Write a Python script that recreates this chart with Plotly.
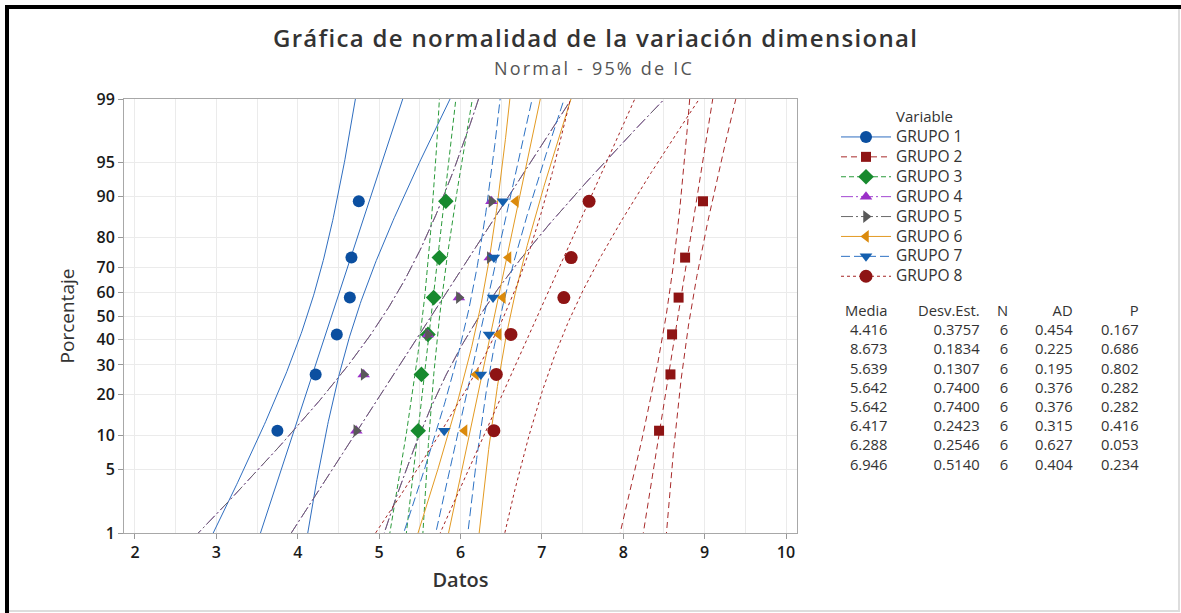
import math
from statistics import NormalDist
import plotly.graph_objects as go

# ---------------- data ----------------
grupos = ["GRUPO 1", "GRUPO 2", "GRUPO 3", "GRUPO 4", "GRUPO 5", "GRUPO 6", "GRUPO 7", "GRUPO 8"]
porcentajes = [10.9375, 26.5625, 42.1875, 57.8125, 73.4375, 89.0625]

grupo1 = [3.75, 4.22, 4.48, 4.64, 4.66, 4.75]
grupo2 = [8.44, 8.58, 8.60, 8.68, 8.76, 8.98]
grupo3 = [5.48, 5.52, 5.60, 5.67, 5.74, 5.82]
grupo4 = [4.72, 4.81, 5.60, 5.98, 6.36, 6.38]
grupo5 = [4.72, 4.81, 5.60, 5.98, 6.36, 6.38]
grupo6 = [6.05, 6.19, 6.47, 6.52, 6.59, 6.68]
grupo7 = [5.80, 6.25, 6.35, 6.40, 6.41, 6.52]
grupo8 = [6.41, 6.44, 6.62, 7.27, 7.36, 7.58]
datos = [grupo1, grupo2, grupo3, grupo4, grupo5, grupo6, grupo7, grupo8]

media = [4.416, 8.673, 5.639, 5.642, 5.642, 6.417, 6.288, 6.946]
desv_est = [0.3757, 0.1834, 0.1307, 0.7400, 0.7400, 0.2423, 0.2546, 0.5140]
n_obs = [6, 6, 6, 6, 6, 6, 6, 6]
ad = [0.454, 0.225, 0.195, 0.376, 0.376, 0.315, 0.627, 0.404]
p_val = [0.167, 0.686, 0.802, 0.282, 0.282, 0.416, 0.053, 0.234]

y_ticks = [1, 5, 10, 20, 30, 40, 50, 60, 70, 80, 90, 95, 99]
x_ticks = [2, 3, 4, 5, 6, 7, 8, 9, 10]

# ---------------- styles ----------------
estilos = [
    dict(symbol="circle", mc="#0B4FA0", lc="#2F6EC0", dash="solid", size=12),
    dict(symbol="square", mc="#8E1414", lc="#A82A2A", dash="6px,4px", size=10),
    dict(symbol="diamond", mc="#178A2E", lc="#2A9A3A", dash="5px,3px", size=12),
    dict(symbol="triangle-up", mc="#9B30C8", lc="#A448D2", dash="12px,3px,2px,3px", size=11),
    dict(symbol="triangle-right", mc="#595959", lc="#6A6A6A", dash="12px,3px,2px,3px", size=11),
    dict(symbol="triangle-left", mc="#DB8A0C", lc="#E39A22", dash="solid", size=11),
    dict(symbol="triangle-down", mc="#145FAE", lc="#2D72C4", dash="9px,4px", size=11),
    dict(symbol="circle", mc="#8E1414", lc="#A52424", dash="3px,3px", size=13),
]

nd = NormalDist()
def zq(p):
    return nd.inv_cdf(p / 100.0)

# plot-area pixel geometry
W, H = 1181, 613
L, R, T, B = 124, 797, 99, 533
def px(xpix):
    return (xpix - L) / (R - L)
def py(ypix):
    return (B - ypix) / (B - T)

FONT = "Open Sans"
TXT = "#333333"

fig = go.Figure()

# fitted lines and 95% CI bands
zs = [-2.7 + i * 5.4 / 200 for i in range(201)]
zc = nd.inv_cdf(0.975)
for i, g in enumerate(grupos):
    m, s, n = media[i], desv_est[i], n_obs[i]
    st = estilos[i]
    fit = [m + s * z for z in zs]
    hw = [zc * s / math.sqrt(n) * math.sqrt(1 + z * z / 2) for z in zs]
    lo = [f - h for f, h in zip(fit, hw)]
    hi = [f + h for f, h in zip(fit, hw)]
    for xs in (fit, lo, hi):
        fig.add_trace(go.Scatter(
            x=xs, y=zs, mode="lines", showlegend=False, hoverinfo="skip",
            line=dict(color=st["lc"], width=1, dash=st["dash"])))

# data points
yz = [zq(p) for p in porcentajes]
for i, g in enumerate(grupos):
    st = estilos[i]
    fig.add_trace(go.Scatter(
        x=datos[i], y=yz, mode="markers", showlegend=False, name=g,
        marker=dict(symbol=st["symbol"], size=st["size"], color=st["mc"])))

# legend entries
for i, g in enumerate(grupos):
    st = estilos[i]
    fig.add_trace(go.Scatter(
        x=[None], y=[None], mode="lines+markers",
        name=f'<span style="font-size:15.5px">{g}</span>',
        line=dict(color=st["lc"], width=1, dash=st["dash"]),
        marker=dict(symbol=st["symbol"], size=st["size"], color=st["mc"])))

annotations = []
# title and subtitle
annotations.append(dict(
    text='<span style="letter-spacing:1.3px">Gráfica de normalidad de la variación dimensional</span>',
    x=px(595), y=py(37.5), xref="paper", yref="paper", borderpad=0,
    showarrow=False, xanchor="center", yanchor="middle",
    font=dict(family=FONT, size=24, color="#333333", weight=600)))
annotations.append(dict(
    text='<span style="letter-spacing:2.2px">Normal - 95% de IC</span>',
    x=px(594), y=py(67.5), xref="paper", yref="paper", borderpad=0,
    showarrow=False, xanchor="center", yanchor="middle",
    font=dict(family=FONT, size=18, color="#555555")))
# legend title
annotations.append(dict(text="Variable", x=px(895), y=py(116), xref="paper", yref="paper",
                        showarrow=False, xanchor="left", yanchor="middle", borderpad=0,
                        font=dict(family=FONT, size=15, color=TXT)))

# statistics table: one right-aligned text block per column
col_right = [890, 982, 1010, 1075, 1141]
headers = ["Media", "Desv.Est.", "N", "AD", "P"]
columnas = [
    [f"{v:.3f}" for v in media],
    [f"{v:.4f}" for v in desv_est],
    [f"{v}" for v in n_obs],
    [f"{v:.3f}" for v in ad],
    [f"{v:.3f}" for v in p_val],
]
n_lines = len(grupos) + 1
top_row, row_h = 310.3, 19.2
mid_y = top_row + (n_lines - 1) * row_h / 2
for c, h in enumerate(headers):
    annotations.append(dict(text="<br>".join([h] + columnas[c]),
                            x=px(col_right[c]), y=py(mid_y), xref="paper", yref="paper",
                            showarrow=False, xanchor="right", yanchor="middle", align="right",
                            font=dict(family=FONT, size=row_h / 1.3, color=TXT)))

shapes = [
    dict(type="line", xref="paper", yref="paper", x0=px(7), x1=px(7), y0=py(5), y1=py(613),
         line=dict(color="#000000", width=4)),
    dict(type="line", xref="paper", yref="paper", x0=px(5), x1=px(1181), y0=py(7), y1=py(7),
         line=dict(color="#000000", width=4)),
    dict(type="line", xref="paper", yref="paper", x0=px(1179), x1=px(1179), y0=py(9), y1=py(611),
         line=dict(color="#dddddd", width=2)),
    dict(type="line", xref="paper", yref="paper", x0=px(9), x1=px(1180), y0=py(611), y1=py(611),
         line=dict(color="#dddddd", width=2)),
]

fig.update_layout(
    width=W, height=H,
    margin=dict(l=L, r=W - R, t=T, b=H - B, pad=0),
    paper_bgcolor="white", plot_bgcolor="white",
    font=dict(family=FONT, color="#222222"),
    annotations=annotations, shapes=shapes,
    legend=dict(x=px(836), y=py(122), xanchor="left", yanchor="top",
                xref="paper", yref="paper",
                font=dict(family=FONT, size=13, color=TXT),
                tracegroupgap=0, itemwidth=50, bgcolor="rgba(0,0,0,0)"),
    showlegend=True,
)

fig.update_xaxes(
    range=[1.865, 10.135], tickmode="array", tickvals=x_ticks,
    ticktext=[str(v) for v in x_ticks],
    ticks="outside", ticklen=5, tickcolor="#999999",
    showline=True, linecolor="#a8a8a8", linewidth=1, mirror=True,
    showgrid=True, gridcolor="#ebebeb", gridwidth=1,
    minor=dict(dtick=0.5, tick0=0, showgrid=True, gridcolor="#ebebeb", ticks=""),
    zeroline=False,
    tickfont=dict(family=FONT, size=16, color="#1a1a1a", weight=600),
    title=dict(text="Datos", font=dict(family=FONT, size=20, color="#333333", weight=600), standoff=10),
)
fig.update_yaxes(
    range=[zq(1), zq(99)], tickmode="array", tickvals=[zq(v) for v in y_ticks],
    ticktext=[str(v) for v in y_ticks],
    ticks="outside", ticklen=5, tickcolor="#999999",
    showline=True, linecolor="#a8a8a8", linewidth=1, mirror=True,
    showgrid=True, gridcolor="#ebebeb", gridwidth=1,
    zeroline=False,
    tickfont=dict(family=FONT, size=16, color="#1a1a1a", weight=600),
    title=dict(text="Porcentaje", font=dict(family=FONT, size=19, color="#333333"), standoff=16),
)

fig.write_html("out.html")
